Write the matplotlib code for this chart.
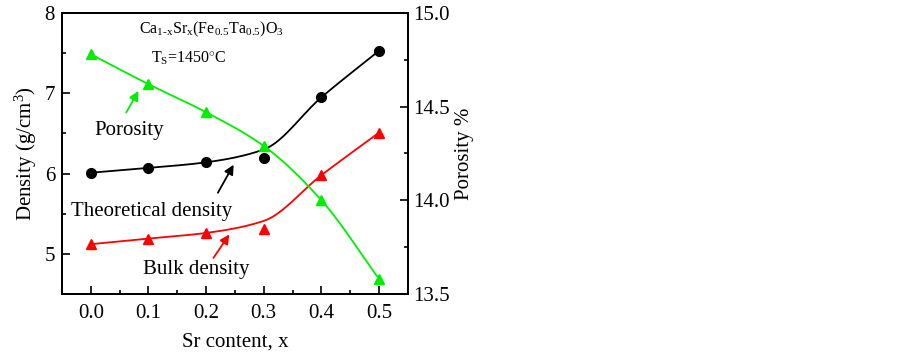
import numpy as np
import matplotlib
matplotlib.use("Agg")
import matplotlib.pyplot as plt
from matplotlib.ticker import MultipleLocator

plt.rcParams["font.family"] = "Liberation Serif"
plt.rcParams["mathtext.fontset"] = "custom"
plt.rcParams["mathtext.rm"] = "Liberation Serif"
plt.rcParams["mathtext.it"] = "Liberation Serif"

# data
sr_content = [0.0, 0.1, 0.2, 0.3, 0.4, 0.5]
theoretical = [6.01, 6.07, 6.14, 6.19, 6.95, 7.53]
bulk = [5.12, 5.19, 5.26, 5.31, 5.98, 6.51]
porosity = [14.78, 14.62, 14.47, 14.29, 14.00, 13.58]

# values of the drawn smooth curves at the same x
theoretical_fit = [6.01, 6.07, 6.14, 6.30, 6.95, 7.53]
bulk_fit = [5.12, 5.19, 5.26, 5.41, 5.98, 6.51]
porosity_fit = [14.78, 14.62, 14.47, 14.29, 14.00, 13.58]


def pchip(x, y, xs):
    # monotone cubic curve through the given points
    x = np.asarray(x, float)
    y = np.asarray(y, float)
    h = np.diff(x)
    d = np.diff(y) / h
    m = np.zeros_like(y)
    for k in range(1, len(x) - 1):
        if d[k - 1] * d[k] > 0:
            w1 = 2 * h[k] + h[k - 1]
            w2 = h[k] + 2 * h[k - 1]
            m[k] = (w1 + w2) / (w1 / d[k - 1] + w2 / d[k])
    m[0] = d[0]
    m[-1] = d[-1]
    idx = np.clip(np.searchsorted(x, xs) - 1, 0, len(x) - 2)
    t = (xs - x[idx]) / h[idx]
    h00 = 2 * t**3 - 3 * t**2 + 1
    h10 = t**3 - 2 * t**2 + t
    h01 = -2 * t**3 + 3 * t**2
    h11 = t**3 - t**2
    return (h00 * y[idx] + h10 * h[idx] * m[idx]
            + h01 * y[idx + 1] + h11 * h[idx] * m[idx + 1])


green = "#00ee00"

fig = plt.figure(figsize=(9.03, 3.52), dpi=100)
ax = fig.add_axes([0.0687, 0.165, 0.383, 0.798])
ax2 = ax.twinx()

xs = np.linspace(0, 0.5, 200)
ax.plot(xs, pchip(sr_content, theoretical_fit, xs), color="black", lw=1.3)
ax.plot(sr_content, theoretical, "o", color="black", ms=7)
ax.plot(xs, pchip(sr_content, bulk_fit, xs), color="red", lw=1.3)
ax.plot(sr_content, bulk, "^", color="red", ms=7.5)
ax2.plot(xs, pchip(sr_content, porosity_fit, xs), color=green, lw=1.3)
ax2.plot(sr_content, porosity, "^", color=green, ms=7.5)

ax.set_xlim(-0.05, 0.55)
ax.set_ylim(4.5, 8)
ax2.set_ylim(13.5, 15.0)
ax.set_xticks(sr_content)
ax.xaxis.set_minor_locator(MultipleLocator(0.05))
ax.yaxis.set_major_locator(MultipleLocator(1))
ax.yaxis.set_minor_locator(MultipleLocator(0.5))
ax2.yaxis.set_major_locator(MultipleLocator(0.5))
ax2.yaxis.set_minor_locator(MultipleLocator(0.25))
ax2.set_yticklabels(["%.1f" % v for v in ax2.get_yticks()])

ax.tick_params(which="both", direction="in", labelsize=15, width=1.2)
ax.tick_params(which="major", length=6)
ax.tick_params(which="minor", length=3)
ax.tick_params(axis="x", pad=7)
ax.tick_params(axis="y", which="both", right=False, pad=5)
ax2.tick_params(which="both", direction="in", labelsize=15, width=1.2)
ax2.tick_params(which="major", length=6)
ax2.tick_params(which="minor", length=3)
for a in (ax, ax2):
    for s in a.spines.values():
        s.set_linewidth(1.4)

ax.set_xlabel("Sr content, x", fontsize=15, labelpad=7)
ax.set_ylabel("Density (g/cm$^3$)", fontsize=15)
ax2.set_ylabel("Porosity %", fontsize=15)

ax.text(0.21, 7.79, r"Ca$_{\mathrm{1\text{-}x}}$Sr$_{\mathrm{x}}$(Fe$_{\mathrm{0.5}}$Ta$_{\mathrm{0.5}}$)O$_{\mathrm{3}}$",
        fontsize=11.5, ha="center", va="center")
ax.text(0.17, 7.44, r"T$_{\mathrm{S}}$=1450$^{\circ}$C", fontsize=11.5, ha="center", va="center")
ax.text(0.066, 6.54, "Porosity", fontsize=15, ha="center", va="center")
ax.text(0.106, 5.53, "Theoretical density", fontsize=15, ha="center", va="center")
ax.text(0.182, 4.80, "Bulk density", fontsize=15, ha="center", va="center")

arrow = dict(arrowstyle="-|>", lw=1.3, mutation_scale=14)
ax.annotate("", xy=(0.085, 7.06), xytext=(0.059, 6.73),
            arrowprops=dict(arrow, color=green))
ax.annotate("", xy=(0.25, 6.14), xytext=(0.218, 5.73),
            arrowprops=dict(arrow, color="black"))
ax.annotate("", xy=(0.243, 5.27), xytext=(0.21, 4.92),
            arrowprops=dict(arrow, color="red"))

fig.savefig("out.png", dpi=100)
